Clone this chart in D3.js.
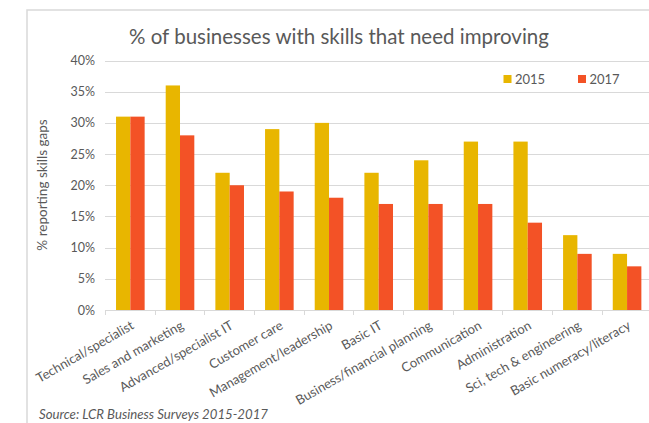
<!DOCTYPE html>
<html>
<head>
<meta charset="utf-8">
<script src="https://cdn.jsdelivr.net/npm/d3@7"></script>
<style>
  body { margin: 0; background: #fff; }
  svg { display: block; font-family: Lato, "Open Sans", sans-serif; }
</style>
</head>
<body>
<div id="chart"></div>
<script>
const categories = ['Technical/specialist', 'Sales and marketing', 'Advanced/specialist IT',
  'Customer care', 'Management/leadership', 'Basic IT', 'Business/financial planning',
  'Communication', 'Administration', 'Sci, tech & engineering', 'Basic numeracy/literacy'];
const seriesNames = ['2015', '2017'];
const values2015 = [31, 36, 22, 29, 30, 22, 24, 27, 27, 12, 9];
const values2017 = [31, 28, 20, 19, 18, 17, 17, 17, 14, 9, 7];
const yTicks = [0, 5, 10, 15, 20, 25, 30, 35, 40];

const colors = { '2015': '#e8b600', '2017': '#f35226' };
const textColor = '#595959';
const gridColor = '#d9d9d9';

const w = 649, h = 423;
const plot = { left: 105, right: 651.4, top: 60.5, bottom: 310 };

const svg = d3.select('#chart').append('svg')
  .attr('width', w)
  .attr('height', h);

// chart frame (runs off the picture on the right and bottom)
svg.append('rect')
  .attr('x', 27).attr('y', 10)
  .attr('width', 700).attr('height', 500)
  .attr('fill', 'none')
  .attr('stroke', gridColor)
  .attr('stroke-width', 1.5);

const x0 = d3.scaleBand()
  .domain(categories)
  .range([plot.left, plot.right]);

const x1 = d3.scaleBand()
  .domain(seriesNames)
  .range([x0.bandwidth() * 0.222, x0.bandwidth() * 0.798]);

const y = d3.scaleLinear()
  .domain([0, 40])
  .range([plot.bottom, plot.top]);

// gridlines
svg.append('g')
  .selectAll('line')
  .data(yTicks.filter(d => d > 0))
  .enter()
  .append('line')
  .attr('x1', plot.left)
  .attr('x2', w)
  .attr('y1', d => Math.round(y(d)) + 0.5)
  .attr('y2', d => Math.round(y(d)) + 0.5)
  .attr('stroke', gridColor)
  .attr('stroke-width', 1);

// y axis labels
const yAxis = d3.axisLeft(y)
  .tickValues(yTicks)
  .tickSize(0)
  .tickPadding(10)
  .tickFormat(d => d + '%');

const yG = svg.append('g')
  .attr('transform', 'translate(' + plot.left + ',0)')
  .call(yAxis);
yG.select('.domain').remove();
yG.selectAll('text')
  .style('font-size', '12.5px')
  .style('fill', textColor)
  .style('font-family', 'Lato, sans-serif');

// bars
const rows = categories.map((c, i) => ({ cat: c, vals: [
  { key: '2015', v: values2015[i] },
  { key: '2017', v: values2017[i] }] }));

svg.append('g')
  .selectAll('g')
  .data(rows)
  .enter()
  .append('g')
  .attr('transform', d => 'translate(' + x0(d.cat) + ',0)')
  .selectAll('rect')
  .data(d => d.vals)
  .enter()
  .append('rect')
  .attr('x', d => x1(d.key))
  .attr('width', x1.bandwidth())
  .attr('y', d => y(d.v))
  .attr('height', d => y(0) - y(d.v))
  .attr('fill', d => colors[d.key]);

// x axis
const xAxis = d3.axisBottom(x0)
  .tickSize(0)
  .tickFormat('');

const xG = svg.append('g')
  .attr('transform', 'translate(0,' + (plot.bottom + 0.5) + ')')
  .call(xAxis);
xG.select('.domain').attr('stroke', gridColor).attr('d', 'M' + plot.left + ',0H' + w);
xG.selectAll('.tick').remove();

svg.append('g')
  .selectAll('line')
  .data(categories.map(c => x0(c)).concat([plot.right]))
  .enter()
  .append('line')
  .attr('x1', d => Math.round(d) + 0.5)
  .attr('x2', d => Math.round(d) + 0.5)
  .attr('y1', plot.bottom)
  .attr('y2', plot.bottom + 5)
  .attr('stroke', gridColor);

svg.append('g')
  .selectAll('text')
  .data(categories)
  .enter()
  .append('text')
  .attr('transform', d => 'translate(' + (x0(d) + x0.bandwidth() / 2 + 5) + ',' + (plot.bottom + 18) + ') rotate(-30)')
  .attr('text-anchor', 'end')
  .style('font-size', '13px')
  .style('fill', textColor)
  .text(d => d);

// title
svg.append('text')
  .attr('x', 339)
  .attr('y', 44)
  .attr('text-anchor', 'middle')
  .style('font-size', '20.5px')
  .style('fill', textColor)
  .text('% of businesses with skills that need improving');

// y title
svg.append('text')
  .attr('transform', 'translate(47,185) rotate(-90)')
  .attr('text-anchor', 'middle')
  .style('font-size', '13.5px')
  .style('fill', textColor)
  .text('% reporting skills gaps');

// legend
const legendPos = [503.5, 578];
const legend = svg.append('g')
  .selectAll('g')
  .data(seriesNames)
  .enter()
  .append('g')
  .attr('transform', (d, i) => 'translate(' + legendPos[i] + ',75)');
legend.append('rect')
  .attr('width', 8).attr('height', 8)
  .attr('fill', d => colors[d]);
legend.append('text')
  .attr('x', 11.5)
  .attr('y', 8.5)
  .style('font-size', '13px')
  .style('fill', textColor)
  .text(d => d);

// source
svg.append('text')
  .attr('x', 39)
  .attr('y', 419)
  .style('font-size', '13.2px')
  .style('font-style', 'italic')
  .style('fill', textColor)
  .text('Source: LCR Business Surveys 2015-2017');
</script>
</body>
</html>
